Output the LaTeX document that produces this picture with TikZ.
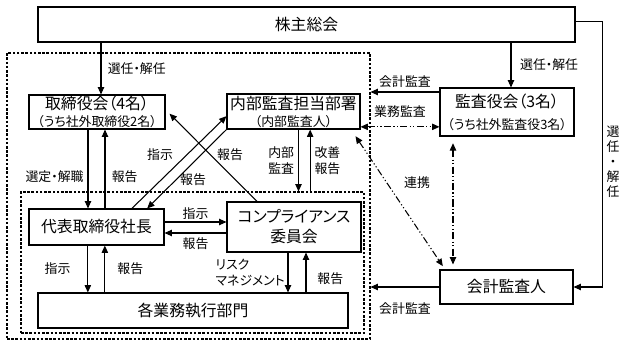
\documentclass[tikz,border=0pt]{standalone}
\usepackage{fontspec}
\setmainfont{Noto Sans CJK JP}[RawFeature=+palt]
\usetikzlibrary{arrows.meta, positioning}

\newcommand{\subnote}[1]{{\fontsize{11}{13}\selectfont #1}}

\begin{document}
\begin{tikzpicture}[
  x=1cm, y=-1cm, font=\fontsize{11}{13.5}\selectfont,
  box/.style={draw, line width=0.9pt, inner sep=0pt, align=center,
    font=\fontsize{13.5}{16}\selectfont},
  grp/.style={draw, line width=0.9pt, dash pattern=on 2.2pt off 1.4pt, inner sep=0pt},
  arr/.style={-{Triangle[length=2.2mm, width=1.9mm]}, line width=0.9pt},
  link/.style={{Triangle[length=2.2mm, width=1.9mm]}-{Triangle[length=2.2mm, width=1.9mm]},
    line width=0.9pt, dash pattern=on 6pt off 2pt on 1pt off 2pt on 1pt off 2pt},
]
  \useasboundingbox (0,0) rectangle (18.84,10.41);

  % Groups (dashed)
  \node[grp, minimum width=10.89cm, minimum height=8.58cm] (outer) at (5.655,5.88) {};
  \node[grp, minimum width=10.29cm, minimum height=4.23cm] (inner) at (5.775,7.875) {};

  % Boxes
  \node[box, minimum width=16.11cm, minimum height=1.05cm] (soukai) at (9.195,0.735) {株主総会};
  \node[box, minimum width=4.08cm, minimum height=1.02cm] (board) at (2.91,3.36)
    {取締役会（4名）\\[-1.5pt]\subnote{（うち社外取締役2名）}};
  \node[box, minimum width=3.99cm, minimum height=1.05cm] (audit) at (8.805,3.345)
    {内部監査担当部署\\[-1.5pt]\subnote{（内部監査人）}};
  \node[box, minimum width=4.02cm, minimum height=1.44cm] (kansa) at (15.21,3.36)
    {監査役会（3名）\\[2.7pt]\subnote{（うち社外監査役3名）}};
  \node[box, minimum width=4.05cm, minimum height=1.08cm] (ceo) at (2.895,6.81) {代表取締役社長};
  \node[box, minimum width=4.02cm, minimum height=1.5cm] (comp) at (8.82,6.81)
    {コンプライアンス\\[1pt]委員会};
  \node[box, minimum width=9.3cm, minimum height=1.05cm] (dept) at (5.79,9.315) {各業務執行部門};
  \node[box, minimum width=3.99cm, minimum height=1.02cm] (auditor) at (15.195,8.61) {会計監査人};

  % Shareholders
  \draw[arr] ([xshift=1.2mm]board.north |- soukai.south) -- ([xshift=1.2mm]board.north)
    node[midway, right=2pt] {選任・解任};
  \draw[arr] ([xshift=1.2mm]kansa.north |- soukai.south) -- ([xshift=1.2mm]kansa.north)
    node[midway, right=4pt] {選任・解任};
  \draw[arr] ([yshift=1mm]soukai.east) -| ([xshift=8.7mm]auditor.east) -- (auditor.east);
  \node[align=center, font=\fontsize{11}{12.75}\selectfont] (sennin) at (18.39,4.86)
    {選\\任\\・\\解\\任};

  % Auditors
  \draw[arr] ([yshift=6mm]kansa.west) -- ([yshift=6mm]kansa.west -| outer.east)
    node[midway, above] {会計監査};
  \draw[link] ([yshift=-4.6mm]audit.east) -- ([yshift=-4.6mm]audit.east -| kansa.west)
    node[midway, above=4pt] {業務監査};
  \draw[link] ([shift={(-0.15,0.2)}]audit.south east) -- ([shift={(0.1,-0.1)}]auditor.north west);
  \draw[link, shorten <=2mm, shorten >=1.5mm] ([xshift=-16.2mm]kansa.south)
    -- ([xshift=-16.2mm]kansa.south |- auditor.north);
  \node (renkei) at (12.51,5.49) {連携};
  \draw[arr] (auditor.west) -- (auditor.west -| outer.east)
    node[midway, below=3.5mm] {会計監査};

  % Board <-> president
  \draw[arr] ([xshift=-2.7mm]board.south) -- ([xshift=-2.7mm]board.south |- ceo.north)
    node[pos=0.6, left] {選定・解職};
  \draw[arr] ([xshift=2.4mm]board.south |- ceo.north) -- ([xshift=2.4mm]board.south)
    node[pos=0.4, right=2pt] {報告};

  % Crossing lines
  \draw[arr] ([xshift=10.6mm]ceo.north) -- ([yshift=-1.4mm]audit.west);
  \draw[arr] (audit.south west) -- ([xshift=15.2mm]ceo.north);
  \draw[arr] ([xshift=-11.1mm]comp.north) -- ([shift={(0.12,0.05)}]board.east);
  \node (shiji1) at (4.8,4.65) {指示};
  \node (houkoku1) at (6.9,4.65) {報告};
  \node (houkoku2) at (5.79,5.4) {報告};

  % Internal audit <-> compliance
  \draw[arr] ([xshift=1.5mm]audit.south) -- ([xshift=1.5mm]audit.south |- inner.north)
    node[midway, left, align=center] {内部\\監査};
  \draw[arr] ([xshift=5mm]audit.south |- inner.north) -- ([xshift=5mm]audit.south)
    node[midway, right, align=center] {改善\\報告};

  % President <-> compliance
  \draw[arr] ([yshift=1.5mm]ceo.east) -- ([yshift=1.5mm]ceo.east -| comp.west)
    node[midway, above=-1.5pt] {指示};
  \draw[arr] ([yshift=-1.8mm]comp.west) -- ([yshift=-1.8mm]comp.west -| ceo.east)
    node[midway, below] {報告};

  % Down to departments
  \draw[arr] ([xshift=-2.6mm]ceo.south) -- ([xshift=-2.6mm]ceo.south |- dept.north)
    node[midway, left=11pt] {指示};
  \draw[arr] ([xshift=2.5mm]ceo.south |- dept.north) -- ([xshift=2.5mm]ceo.south)
    node[midway, right=7pt] {報告};
  \draw[arr] ([xshift=-1.8mm]comp.south) -- ([xshift=-1.8mm]comp.south |- dept.north)
    node[midway, left=-1pt, align=left] {リスク\\マネジメント};
  \draw[arr] ([xshift=3.6mm]comp.south |- dept.north) -- ([xshift=3.6mm]comp.south)
    node[pos=0.35, right=6pt] {報告};

\end{tikzpicture}
\end{document}
